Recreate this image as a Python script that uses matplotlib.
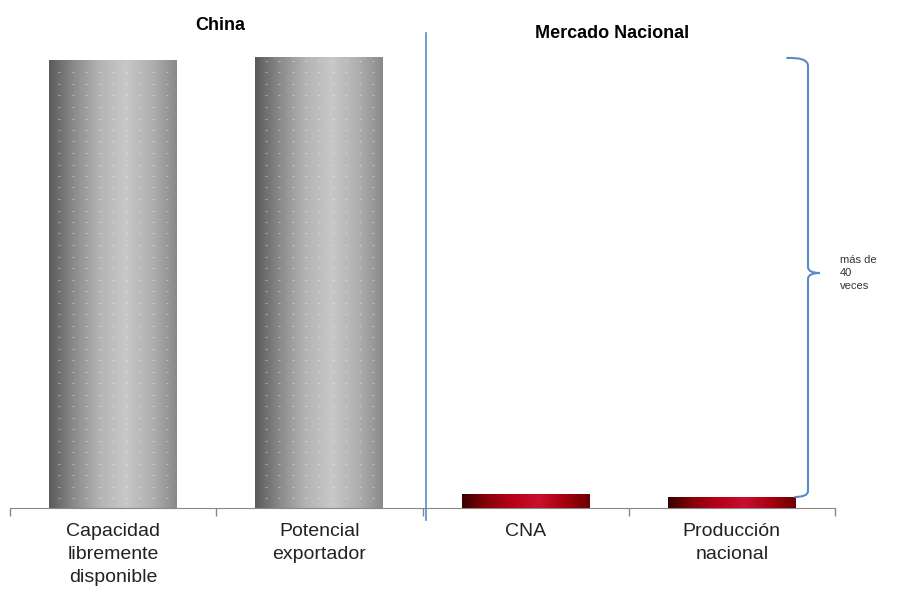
import numpy as np
import matplotlib.pyplot as plt
from matplotlib.colors import LinearSegmentedColormap
from matplotlib.path import Path
from matplotlib.patches import PathPatch

plt.rcParams['font.family'] = ['Liberation Sans', 'DejaVu Sans']

categorias = ['Capacidad\nlibremente\ndisponible', 'Potencial\nexportador', 'CNA', 'Producción\nnacional']
valores = [44.8, 45.1, 1.4, 1.1]
grupos = ['China', 'Mercado Nacional']

gris = LinearSegmentedColormap.from_list('gris', ['#5a5a5a', '#8c8c8c', '#b4b4b4', '#c8c8c8', '#b0b0b0', '#8a8a8a'])
rojo = LinearSegmentedColormap.from_list('rojo', ['#3a0000', '#8a0008', '#b8001a', '#c8102e', '#a80010', '#6a0000'])

fig = plt.figure(figsize=(9.01, 5.92), dpi=100)
ax = fig.add_axes([10 / 901, 84 / 592, 825 / 901, 488 / 592])

x = np.arange(len(categorias))
ancho = 0.62
barras = ax.bar(x, valores, width=ancho, color='none', edgecolor='none', zorder=2)
grad = np.linspace(0, 1, 256).reshape(1, -1)
for i, b in enumerate(barras):
    cmap = gris if i < 2 else rojo
    x0, w, h = b.get_x(), b.get_width(), b.get_height()
    im = ax.imshow(grad, cmap=cmap, aspect='auto', extent=[x0, x0 + w, 0, h], zorder=2)
    im.set_clip_path(b)
    if i < 2:
        # puntos claros del relleno
        xs = x0 + w * np.linspace(0.08, 0.92, 9)
        ys = np.arange(1.0, h - 0.3, 1.15)
        gx, gy = np.meshgrid(xs, ys)
        ax.scatter(gx.ravel(), gy.ravel(), s=2, marker='_', color='white', alpha=0.4, linewidths=0.8, zorder=3)

ax.set_xlim(-0.5, 3.5)
ax.set_ylim(0, 48.8)
ax.set_xticks([-0.5, 0.5, 1.5, 2.5, 3.5])
ax.set_xticklabels([])
ax.set_xticks(x, minor=True)
ax.set_xticklabels(categorias, minor=True, fontsize=14, color='#222222', linespacing=1.45)
ax.tick_params(axis='x', which='minor', length=0, pad=11)
ax.tick_params(axis='x', which='major', length=6, color='#888888', width=1)
ax.set_yticks([])
for s in ['top', 'right', 'left']:
    ax.spines[s].set_visible(False)
ax.spines['bottom'].set_color('#888888')

# linea separadora
ax.plot([1.5 + 3 / 206.25, 1.5 + 3 / 206.25], [-1.2, 47.5], color='#5b8bc7', lw=1.2, clip_on=False, zorder=4)

# titulos de grupo
fig.text(220 / 901, 1 - 25 / 592, grupos[0], ha='center', va='center', fontsize=13, fontweight='bold')
fig.text(612 / 901, 1 - 33 / 592, grupos[1], ha='center', va='center', fontsize=13, fontweight='bold')

# llave
bx = 3.5 - 27 / 206.25
y_top, y_bot, y_mid = 45.1 - 0.3, 1.1, 23.5
dx = 8 / 206.25
verts = [(bx - 2.7 * dx, y_top + 0.2), (bx, y_top + 0.3), (bx, y_top - 0.6),
         (bx, y_mid + 0.6),
         (bx, y_mid), (bx + 1.5 * dx, y_mid),
         (bx, y_mid), (bx, y_mid - 0.6),
         (bx, y_bot + 0.6),
         (bx, y_bot), (bx - 1.7 * dx, y_bot)]
codes = [Path.MOVETO, Path.CURVE3, Path.CURVE3, Path.LINETO,
         Path.CURVE3, Path.CURVE3, Path.CURVE3, Path.CURVE3,
         Path.LINETO, Path.CURVE3, Path.CURVE3]
ax.add_patch(PathPatch(Path(verts, codes), fill=False, edgecolor='#5b8bc7', lw=1.5, clip_on=False, zorder=4))
fig.text(840 / 901, 1 - 255 / 592, 'más de\n40\nveces', ha='left', va='top', fontsize=8, color='#333333', linespacing=1.4)

fig.savefig('out.png', dpi=100)
